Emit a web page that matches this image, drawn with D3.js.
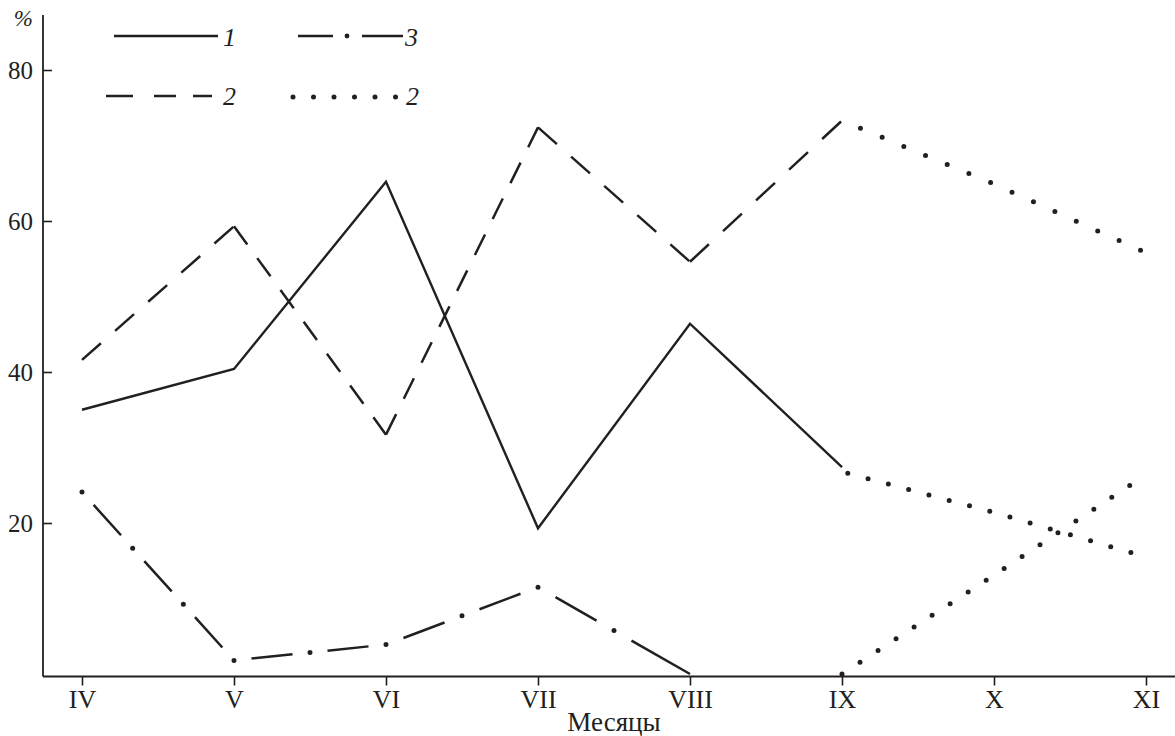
<!DOCTYPE html>
<html>
<head>
<meta charset="utf-8">
<script src="https://cdn.jsdelivr.net/npm/d3@7"></script>
<style>
  html, body { margin: 0; padding: 0; background: #fff; }
  svg { display: block; }
  text { font-family: "Liberation Serif", "Times New Roman", Tinos, serif; }
</style>
</head>
<body>
<svg id="chart" width="1175" height="736"></svg>
<script>
// ---- data ----
const months = ["IV", "V", "VI", "VII", "VIII", "IX", "X", "XI"];
const yTicks = [20, 40, 60, 80];
// solid line 1 (IV..IX)
const series1 = [35.0, 40.4, 65.2, 19.3, 46.4, 27.4];
// dashed line 2 (IV..IX)
const series2 = [41.6, 59.3, 31.7, 72.4, 54.6, 73.3];
// dash-dot line 3 (IV..VIII)
const series3 = [24.1, 1.8, 3.9, 11.5, 0];
// dotted continuations (IX..XI)
const dottedUpper = [73.3, 64.9, 55.8];
const dottedMiddle = [26.8, 21.4, 15.5];
const dottedLower = [0, 13.1, 26.4];
const legendLabels = ["1", "3", "2", "2"];
const xTitle = "Месяцы";
const yTitle = "%";

// ---- layout ----
const ink = "#231f20";
const serif = "'Liberation Serif', 'Times New Roman', Tinos, serif";
const svg = d3.select("#chart");
const x = d3.scalePoint().domain(months).range([82, 1146]);
const y = d3.scaleLinear().domain([0, 80]).range([674, 70]);
const axisX0 = 43, axisY0 = 676.5;

// axes lines
svg.append("line").attr("x1", axisX0).attr("x2", axisX0).attr("y1", 15).attr("y2", axisY0)
  .attr("stroke", ink).attr("stroke-width", 1.8);
svg.append("line").attr("x1", axisX0).attr("x2", 1175).attr("y1", axisY0).attr("y2", axisY0)
  .attr("stroke", ink).attr("stroke-width", 1.8);

// x axis ticks
const gx = svg.append("g").attr("transform", `translate(0,${axisY0})`)
  .call(d3.axisBottom(x).tickSize(9).tickPadding(4));
gx.attr("font-family", null);
gx.select(".domain").remove();
gx.selectAll(".tick line").attr("stroke", ink).attr("stroke-width", 1.6);
gx.selectAll(".tick text").attr("fill", ink)
  .style("font-family", serif).style("font-size", "26px");

// y axis ticks (inward)
const gy = svg.append("g").attr("transform", `translate(${axisX0},0)`)
  .call(d3.axisLeft(y).tickValues(yTicks).tickSize(-9).tickPadding(10));
gy.attr("font-family", null);
gy.select(".domain").remove();
gy.selectAll(".tick line").attr("stroke", ink).attr("stroke-width", 1.6);
gy.selectAll(".tick text").attr("fill", ink)
  .style("font-family", serif).style("font-size", "25px");

// titles
svg.append("text").attr("x", 614).attr("y", 731).attr("text-anchor", "middle")
  .attr("fill", ink).style("font-family", serif).style("font-size", "27px")
  .text(xTitle);
svg.append("text").attr("x", 33).attr("y", 26).attr("text-anchor", "end")
  .attr("fill", ink).style("font-family", serif).style("font-style", "italic")
  .style("font-size", "23px").text(yTitle);

// helpers
function pts(values, startIdx) {
  return values.map((v, i) => [x(months[startIdx + i]), y(v)]);
}
const plot = svg.append("g");

// solid series 1
plot.append("path").datum(pts(series1, 0))
  .attr("d", d3.line()).attr("fill", "none").attr("stroke", ink)
  .attr("stroke-width", 2.4).attr("stroke-linejoin", "miter");

// dashed series 2: per segment, dashes fitted to start and end at vertices
(function () {
  const p = pts(series2, 0);
  for (let i = 0; i < p.length - 1; i++) {
    const [x1, y1] = p[i], [x2, y2] = p[i + 1];
    const L = Math.hypot(x2 - x1, y2 - y1);
    const d0 = 24, g0 = 18;
    const n = Math.max(1, Math.round((L + g0) / (d0 + g0)));
    const k = (L + g0) / (n * (d0 + g0));
    plot.append("line").attr("x1", x1).attr("y1", y1).attr("x2", x2).attr("y2", y2)
      .attr("stroke", ink).attr("stroke-width", 2.5)
      .attr("stroke-dasharray", `${d0 * k} ${g0 * k}`);
  }
})();

// dash-dot series 3: each segment starts with a dot; last segment ends with a dash
(function () {
  const p = pts(series3, 0);
  for (let i = 0; i < p.length - 1; i++) {
    const [x1, y1] = p[i], [x2, y2] = p[i + 1];
    const L = Math.hypot(x2 - x1, y2 - y1);
    const last = i === p.length - 2;
    const n = Math.max(1, Math.round(L / 74));
    const per = L / n;
    const dash = per * 0.54, gap = (per - dash) / 2;
    let arr;
    if (last) {
      arr = [0, gap];
      for (let j = 0; j < n - 1; j++) arr.push(dash, 2 * gap);
      arr.push(L * 2, L * 2);
    } else {
      arr = [0, gap, dash, gap];
    }
    plot.append("line").attr("x1", x1).attr("y1", y1).attr("x2", x2).attr("y2", y2)
      .attr("stroke", ink).attr("stroke-width", 2.5)
      .attr("stroke-dasharray", arr.join(" "));
    plot.append("line").attr("x1", x1).attr("y1", y1).attr("x2", x2).attr("y2", y2)
      .attr("stroke", ink).attr("stroke-width", 5).attr("stroke-linecap", "round")
      .attr("stroke-dasharray", last ? `0 ${per} 0 ${L * 4}` : `0 ${per}`);
  }
})();

// dotted continuations
const dottedSets = [
  { values: dottedUpper, offset: -20, spacing: 23.5 },
  { values: dottedMiddle, offset: -6, spacing: 21 },
  { values: dottedLower, offset: 0, spacing: 21.5 }
];
dottedSets.forEach(s => {
  plot.append("path").datum(pts(s.values, 5))
    .attr("d", d3.line()).attr("fill", "none").attr("stroke", ink)
    .attr("stroke-width", 5).attr("stroke-linecap", "round")
    .attr("stroke-dasharray", `0 ${s.spacing}`)
    .attr("stroke-dashoffset", s.offset);
});

// ---- legend ----
const lg = svg.append("g");
const legFont = sel => sel.attr("fill", ink).style("font-family", serif)
  .style("font-style", "italic").style("font-size", "26px");
// 1 solid
lg.append("line").attr("x1", 114).attr("x2", 218).attr("y1", 36).attr("y2", 36)
  .attr("stroke", ink).attr("stroke-width", 2.6);
lg.append("text").attr("x", 223).attr("y", 46).call(legFont).text(legendLabels[0]);
// 3 dash-dot
lg.append("line").attr("x1", 298).attr("x2", 333).attr("y1", 36).attr("y2", 36)
  .attr("stroke", ink).attr("stroke-width", 2.6);
lg.append("circle").attr("cx", 347).attr("cy", 36).attr("r", 2.4).attr("fill", ink);
lg.append("line").attr("x1", 362).attr("x2", 403).attr("y1", 36).attr("y2", 36)
  .attr("stroke", ink).attr("stroke-width", 2.6);
lg.append("text").attr("x", 405).attr("y", 46).call(legFont).text(legendLabels[1]);
// 2 dashed
lg.append("line").attr("x1", 106).attr("x2", 212).attr("y1", 96).attr("y2", 96)
  .attr("stroke", ink).attr("stroke-width", 2.6).attr("stroke-dasharray", "27 21 22 17 19");
lg.append("text").attr("x", 223).attr("y", 105).call(legFont).text(legendLabels[2]);
// 2 dotted
lg.append("line").attr("x1", 293).attr("x2", 396).attr("y1", 97).attr("y2", 97)
  .attr("stroke", ink).attr("stroke-width", 5).attr("stroke-linecap", "round")
  .attr("stroke-dasharray", "0 20.5");
lg.append("text").attr("x", 406).attr("y", 105).call(legFont).text(legendLabels[3]);
</script>
</body>
</html>
